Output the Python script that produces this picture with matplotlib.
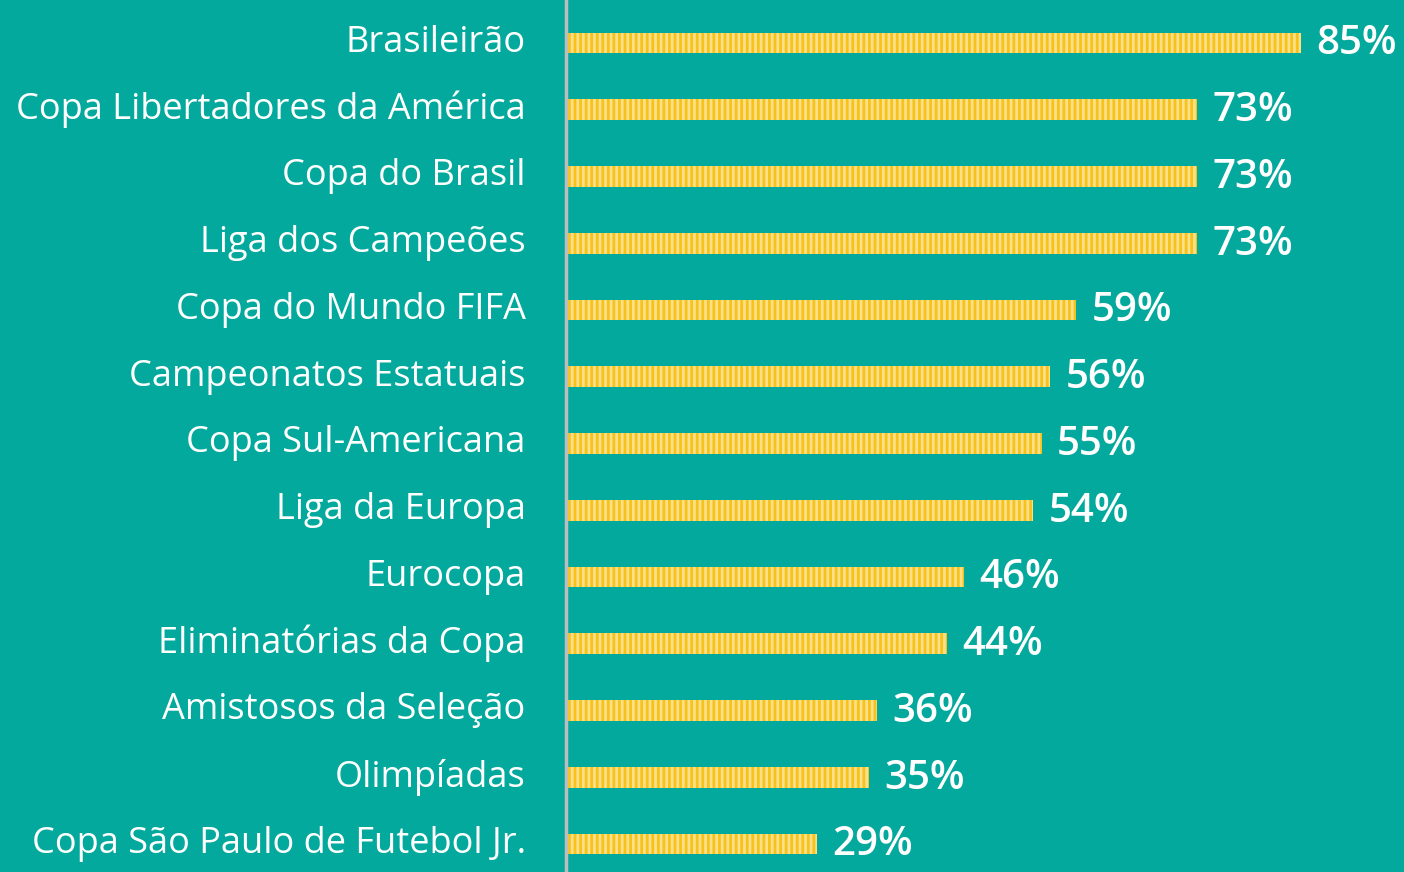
import matplotlib
matplotlib.use("Agg")
import matplotlib.pyplot as plt

categories = ["Brasileirão", "Copa Libertadores da América", "Copa do Brasil",
              "Liga dos Campeões", "Copa do Mundo FIFA", "Campeonatos Estatuais",
              "Copa Sul-Americana", "Liga da Europa", "Eurocopa",
              "Eliminatórias da Copa", "Amistosos da Seleção", "Olimpíadas",
              "Copa São Paulo de Futebol Jr."]
values = [85, 73, 73, 73, 59, 56, 55, 54, 46, 44, 36, 35, 29]

BG = "#02A99C"
FONT = ["Open Sans", "DejaVu Sans"]
fig = plt.figure(figsize=(14.04, 8.72), dpi=100, facecolor=BG)
ax = fig.add_axes([566/1404, 0, 1 - 566/1404, 1])
ax.set_facecolor(BG)

ypos = list(range(len(categories)))
plt.rcParams['hatch.linewidth'] = 2.0
bars = ax.barh(ypos, values, height=0.31, color="#FAE08A",
               edgecolor="#FFC000", hatch="|||", linewidth=0)
for b in bars:
    b.set_edgecolor("#F7C21A")

ax.set_xlim(0, 96.9)
ax.set_ylim(12.42, -0.644)

for y, v in zip(ypos, values):
    ax.annotate(f"{v}%", xy=(v, y), xytext=(11, -1), textcoords="offset points",
                ha="left", va="center", color="white", fontsize=29,
                fontweight="semibold", family=FONT)

ax.set_yticks(ypos)
ax.set_yticklabels(categories, color="white", fontsize=26, family=FONT,
                   va="bottom")
ax.tick_params(axis="y", length=0, pad=29)
for t in ax.get_yticklabels():
    t.set_va("center")
ax.set_xticks([])
for s in ["top", "right", "bottom"]:
    ax.spines[s].set_visible(False)
ax.spines["left"].set_color("#BDBDBD")
ax.spines["left"].set_linewidth(2.5)

fig.savefig("out.png", dpi=100, facecolor=BG)
